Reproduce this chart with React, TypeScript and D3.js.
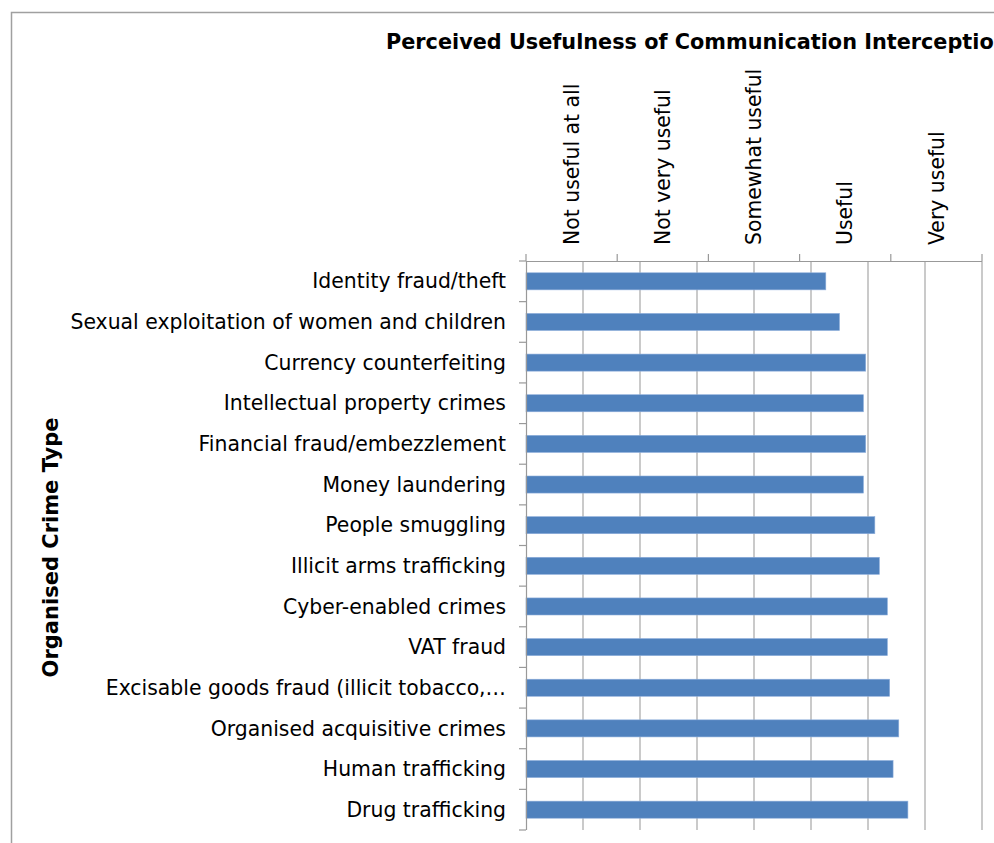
import { useEffect, useRef } from "react";
import * as d3 from "d3";

const crimeTypes: string[] = [
  "Identity fraud/theft",
  "Sexual exploitation of women and children",
  "Currency counterfeiting",
  "Intellectual property crimes",
  "Financial fraud/embezzlement",
  "Money laundering",
  "People smuggling",
  "Illicit arms trafficking",
  "Cyber-enabled crimes",
  "VAT fraud",
  "Excisable goods fraud (illicit tobacco,…",
  "Organised acquisitive crimes",
  "Human trafficking",
  "Drug trafficking",
];

const meanScores: number[] = [
  3.63, 3.75, 3.98, 3.96, 3.98, 3.96, 4.06, 4.1, 4.17, 4.17, 4.19, 4.27, 4.22, 4.35,
];

const usefulnessLabels: string[] = [
  "Not useful at all",
  "Not very useful",
  "Somewhat useful",
  "Useful",
  "Very useful",
];

const gridValues: number[] = [1, 1.5, 2, 2.5, 3, 3.5, 4, 4.5, 5];

export default function App() {
  const svgRef = useRef<SVGSVGElement>(null);

  useEffect(() => {
    if (!svgRef.current) return;
    const W = 994;
    const H = 843;
    const margin = { top: 261, left: 526 };
    const width = 456;
    const height = 569;
    const font = "'DejaVu Sans', Verdana, sans-serif";

    const root = d3.select(svgRef.current);
    root.selectAll("*").remove();
    root.attr("width", W).attr("height", H);

    // outer frame (cropped on the right/bottom)
    root.append("rect")
      .attr("x", 11.5).attr("y", 12.5)
      .attr("width", 1200).attr("height", 1200)
      .attr("fill", "#fff").attr("stroke", "#a0a0a0").attr("stroke-width", 1.5);

    // title runs off the right edge, as in the source image
    root.append("text")
      .attr("x", 386).attr("y", 49)
      .attr("font-family", font).attr("font-weight", "bold").attr("font-size", "20.8px")
      .attr("fill", "#000")
      .text("Perceived Usefulness of Communication Interception");

    root.append("text")
      .attr("transform", `translate(58,${margin.top + height / 2 + 2}) rotate(-90)`)
      .attr("text-anchor", "middle")
      .attr("font-family", font).attr("font-weight", "bold").attr("font-size", "21px")
      .attr("fill", "#000")
      .text("Organised Crime Type");

    const g = root.append("g").attr("transform", `translate(${margin.left},${margin.top})`);

    const x = d3.scaleLinear().domain([1, 5]).range([0, width]);
    const y = d3.scaleBand<string>()
      .domain(crimeTypes)
      .range([0, height])
      .paddingInner(0.58)
      .paddingOuter(0.29);
    const cat = d3.scaleLinear().domain([0, usefulnessLabels.length]).range([0, width]);

    // vertical gridlines
    g.selectAll(".grid")
      .data(gridValues.slice(1))
      .enter().append("line")
      .attr("x1", (d) => x(d)).attr("x2", (d) => x(d))
      .attr("y1", 0).attr("y2", height)
      .attr("stroke", "#b8b8b8").attr("stroke-width", 1.5);

    // bars
    g.selectAll(".bar")
      .data(crimeTypes)
      .enter().append("rect")
      .attr("x", 0)
      .attr("y", (d) => y(d) ?? 0)
      .attr("width", (_d, i) => x(meanScores[i]) - x(1))
      .attr("height", y.bandwidth())
      .attr("fill", "#4f81bd")
      .attr("stroke", "#8eaedb").attr("stroke-width", 0.6);

    // top axis line + ticks
    g.append("line")
      .attr("x1", 0).attr("x2", width).attr("y1", 0.5).attr("y2", 0.5)
      .attr("stroke", "#999").attr("stroke-width", 1.2);
    g.selectAll(".ttick")
      .data(d3.range(usefulnessLabels.length + 1))
      .enter().append("line")
      .attr("x1", (d) => cat(d)).attr("x2", (d) => cat(d))
      .attr("y1", 0).attr("y2", -7)
      .attr("stroke", "#999").attr("stroke-width", 1.2);
    g.selectAll(".tlabel")
      .data(usefulnessLabels)
      .enter().append("text")
      .attr("transform", (_d, i) => `translate(${cat(i + 0.5)},-16) rotate(-90)`)
      .attr("dy", "0.35em")
      .attr("font-family", font).attr("font-size", "20.4px").attr("fill", "#000")
      .text((d) => d);

    // left axis line + ticks
    g.append("line")
      .attr("x1", 0.5).attr("x2", 0.5).attr("y1", 0).attr("y2", height)
      .attr("stroke", "#999").attr("stroke-width", 1.2);
    g.selectAll(".ltick")
      .data(d3.range(crimeTypes.length + 1))
      .enter().append("line")
      .attr("x1", -7).attr("x2", 0)
      .attr("y1", (d) => d * y.step()).attr("y2", (d) => d * y.step())
      .attr("stroke", "#999").attr("stroke-width", 1.2);
    g.selectAll(".ylabel")
      .data(crimeTypes)
      .enter().append("text")
      .attr("x", -20)
      .attr("y", (d) => (y(d) ?? 0) + y.bandwidth() / 2)
      .attr("dy", "0.35em")
      .attr("text-anchor", "end")
      .attr("font-family", font).attr("font-size", "20.4px").attr("fill", "#000")
      .text((d) => d);
  }, []);

  return (
    <svg
      ref={svgRef}
      style={{ position: "absolute", left: 0, top: 0, display: "block", background: "#fff" }}
    />
  );
}
